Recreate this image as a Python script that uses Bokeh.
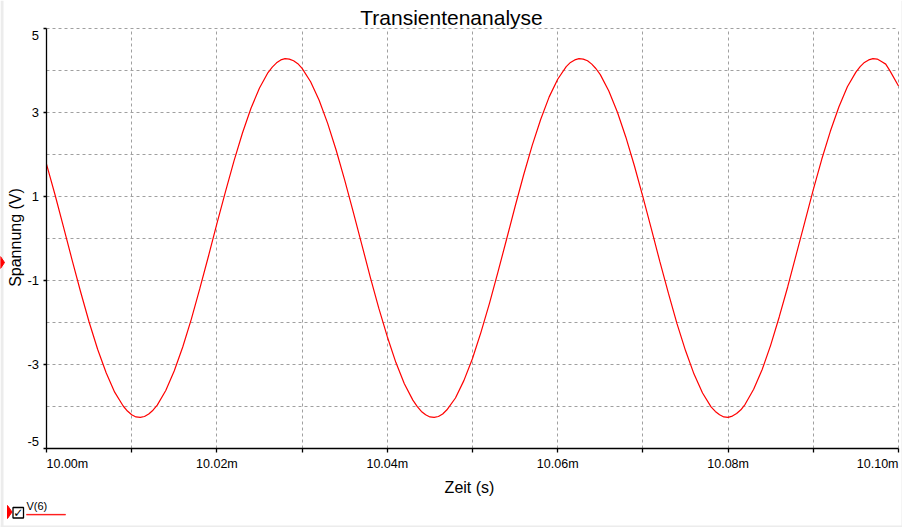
import numpy as np
from bokeh.plotting import figure
from bokeh.models import FixedTicker, Label, PolyAnnotation, Range1d, BoxAnnotation
from bokeh.embed import file_html
from bokeh.resources import INLINE

# ---------------- data ----------------
title_text = "Transientenanalyse"
x_title = "Zeit (s)"
y_title = "Spannung (V)"
series_name = "V(6)"

# V(6) sampled every 0.001 ms from 10.000 ms to 10.100 ms
t_start = 10.000   # ms
t_step = 0.001     # ms
v6 = [1.76, 1.03, 0.26, -0.52, -1.28, -2.00, -2.65, -3.21, -3.67, -4.00,
      -4.21, -4.27, -4.19, -3.98, -3.63, -3.16, -2.59, -1.93, -1.20, -0.44,
      0.34, 1.10, 1.83, 2.50, 3.09, 3.57, 3.94, 4.17, 4.27, 4.22,
      4.04, 3.72, 3.28, 2.73, 2.09, 1.38, 0.62, -0.15, -0.93, -1.67,
      -2.35, -2.96, -3.47, -3.86, -4.13, -4.26, -4.25, -4.09, -3.81, -3.39,
      -2.87, -2.24, -1.55, -0.80, -0.03, 0.75, 1.50, 2.20, 2.82, 3.36,
      3.78, 4.08, 4.24, 4.26, 4.14, 3.89, 3.50, 3.00, 2.40, 1.72,
      0.98, 0.21, -0.57, -1.32, -2.04, -2.68, -3.24, -3.69, -4.02, -4.21,
      -4.27, -4.18, -3.96, -3.60, -3.13, -2.55, -1.88, -1.16, -0.39, 0.38,
      1.15, 1.88, 2.54, 3.12, 3.60, 3.95, 4.18, 4.27, 4.20, 3.98,
      3.62]
time_ms = [round(t_start + t_step * i, 4) for i in range(len(v6))]

# extra readings around the peaks and troughs (half-step times)
extra_time_ms = [10.0095, 10.0105, 10.0115, 10.0125,
                 10.0265, 10.0275, 10.0285, 10.0295,
                 10.0435, 10.0445, 10.0455, 10.0465,
                 10.0615, 10.0625, 10.0635, 10.0645,
                 10.0785, 10.0795, 10.0805, 10.0815,
                 10.0955, 10.0965, 10.0975, 10.0985]
extra_v6 = [-4.12, -4.26, -4.25, -4.10,
            4.07, 4.24, 4.26, 4.15,
            -4.01, -4.21, -4.27, -4.19,
            4.18, 4.27, 4.22, 4.03,
            -4.13, -4.26, -4.24, -4.09,
            4.08, 4.24, 4.26, 4.14]

pairs = sorted(zip(time_ms + extra_time_ms, v6 + extra_v6))
curve_t = [a for a, b in pairs]
curve_v = [b for a, b in pairs]

x_grid_ticks = [10.00, 10.01, 10.02, 10.03, 10.04, 10.05, 10.06, 10.07, 10.08, 10.09, 10.10]
x_label_ticks = [10.00, 10.02, 10.04, 10.06, 10.08, 10.10]
x_label_texts = ["10.00m", "10.02m", "10.04m", "10.06m", "10.08m", "10.10m"]
y_grid_ticks = [-5, -4, -3, -2, -1, 0, 1, 2, 3, 4, 5]
y_label_ticks = [-5, -3, -1, 1, 3, 5]
y_label_texts = ["-5", "-3", "-1", "1", "3", "5"]

# ---------------- layout ----------------
W, H = 902, 527
FL, FR, FT, FB = 46, 898, 27.5, 447.5     # axis box in picture pixels
X0, X1, Y0, Y1 = 10.00, 10.10, -5.0, 5.0

def X(px):
    return X0 + (px - FL) * (X1 - X0) / (FR - FL)

def Y(py):
    return Y0 + (FB - py) * (Y1 - Y0) / (FB - FT)

FONT = "Liberation Sans"

p = figure(width=W, height=H, output_backend="svg", toolbar_location=None,
           x_range=Range1d(X(0), X(W)), y_range=Range1d(Y(H), Y(0)),
           min_border=0, min_border_left=0, min_border_right=0,
           min_border_top=0, min_border_bottom=0)
p.outline_line_color = None
p.background_fill_color = "white"
p.border_fill_color = "white"

# grids
p.xgrid.ticker = FixedTicker(ticks=x_grid_ticks)
p.ygrid.ticker = FixedTicker(ticks=y_grid_ticks)
p.xgrid.bounds = (X0, X1)
p.ygrid.bounds = (Y0, Y1)
p.xgrid.cross_bounds = (Y0, Y1)
p.ygrid.cross_bounds = (X0, X1)
for g in (p.xgrid, p.ygrid):
    g.grid_line_color = "#a0a0a0"
    g.grid_line_dash = "3 3"
    g.grid_line_width = 1

# axes drawn at the box edges inside the canvas
p.xaxis.fixed_location = Y0
p.yaxis.fixed_location = X0
p.xaxis.bounds = (X0, X1)
p.yaxis.bounds = (Y0, Y1)
p.xaxis.ticker = FixedTicker(ticks=[], minor_ticks=x_grid_ticks)
p.yaxis.ticker = FixedTicker(ticks=[], minor_ticks=y_label_ticks)
for ax in (p.xaxis, p.yaxis):
    ax.axis_line_color = "black"
    ax.axis_line_width = 1.3
    ax.minor_tick_line_color = "black"
    ax.minor_tick_line_width = 1.3
    ax.minor_tick_in = 0
    ax.major_tick_line_color = None
p.xaxis.minor_tick_out = 4
p.yaxis.minor_tick_out = 3

# curve
p.line(curve_t, curve_v, line_color="#ff0000", line_width=1.2)

# tick labels
for xv, s in zip(x_label_ticks, x_label_texts):
    align = "center"
    if xv == x_label_ticks[0]:
        align = "left"
    elif xv == x_label_ticks[-1]:
        align = "right"
    p.add_layout(Label(x=xv, y=Y(463.5), text=s, text_align=align, text_baseline="middle",
                       text_font=FONT, text_font_size="12.5px", text_color="black"))

for yv, s in zip(y_label_ticks, y_label_texts):
    ypos = yv
    if yv == y_label_ticks[-1]:
        ypos = Y(35)
    elif yv == y_label_ticks[0]:
        ypos = Y(441)
    p.add_layout(Label(x=X(38.5), y=ypos, text=s, text_align="right", text_baseline="middle",
                       text_font=FONT, text_font_size="13px", text_color="black"))

# titles
p.add_layout(Label(x=X(451), y=Y(17.3), text=title_text, text_align="center",
                   text_baseline="alphabetic", text_font=FONT, text_font_size="21px",
                   text_color="black"))
p.add_layout(Label(x=X(469), y=Y(487), text=x_title, text_align="center",
                   text_baseline="middle", text_font=FONT, text_font_size="16px",
                   text_color="black"))
p.add_layout(Label(x=X(15), y=Y(237), text=y_title, text_align="center",
                   text_baseline="middle", angle=np.pi / 2, text_font=FONT,
                   text_font_size="16px", text_color="black"))

# window edge strips
p.add_layout(BoxAnnotation(left=X(0), right=X(3), bottom=Y(H), top=Y(0),
                           fill_color="#ececec", fill_alpha=1, line_color=None))
p.add_layout(BoxAnnotation(left=X(0), right=X(W), bottom=Y(H), top=Y(H - 2),
                           fill_color="#ececec", fill_alpha=1, line_color=None))
p.add_layout(BoxAnnotation(left=X(W - 1), right=X(W), bottom=Y(H), top=Y(0),
                           fill_color="#ececec", fill_alpha=1, line_color=None))

# cursor marker on the left edge
p.add_layout(PolyAnnotation(xs=[X(0), X(0), X(4)], ys=[Y(256), Y(268), Y(262)],
                            fill_color="#ff0000", fill_alpha=1, line_color="#ff0000",
                            line_alpha=1))

# legend (bottom-left)
p.add_layout(PolyAnnotation(xs=[X(7), X(7), X(11.5)], ys=[Y(505), Y(518), Y(511.5)],
                            fill_color="#ff0000", fill_alpha=1, line_color="#ff0000",
                            line_alpha=1))
p.add_layout(PolyAnnotation(xs=[X(12.5), X(23), X(23), X(12.5)],
                            ys=[Y(507), Y(507), Y(517.5), Y(517.5)],
                            fill_color="white", fill_alpha=1, line_color="black",
                            line_width=1.3, line_alpha=1))
p.add_layout(Label(x=X(17.8), y=Y(512.3), text="\u2713", text_align="center",
                   text_baseline="middle", text_font="DejaVu Sans", text_font_size="12px",
                   text_color="black"))
p.add_layout(Label(x=X(26), y=Y(505), text=series_name, text_align="left",
                   text_baseline="middle", text_font=FONT, text_font_size="11px",
                   text_color="black"))
p.add_layout(PolyAnnotation(xs=[X(26), X(65), X(65), X(26)],
                            ys=[Y(513.8), Y(513.8), Y(514.6), Y(514.6)],
                            fill_color="#ff0000", fill_alpha=1, line_color="#ff0000",
                            line_alpha=1, line_width=0.5))

open("out.html", "w").write(file_html(p, INLINE))
